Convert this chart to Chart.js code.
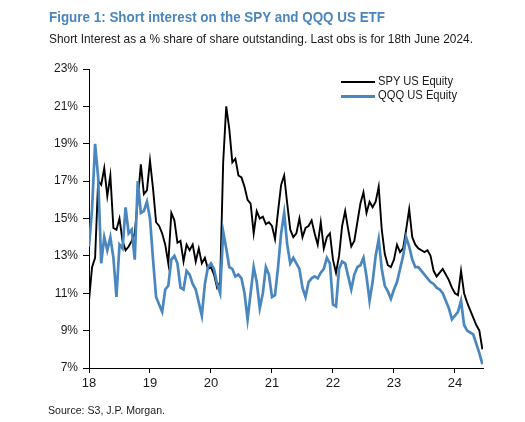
<!DOCTYPE html>
<html>
<head>
<meta charset="utf-8">
<script src="https://cdn.jsdelivr.net/npm/chart.js@4.4.0/dist/chart.umd.min.js"></script>
<style>
    body { margin: 0; background: #fff; }
    #wrap { position: relative; width: 525px; height: 422px; font-family: "Liberation Sans", Arial, sans-serif; color: #1a1a1a; }
    #grafico { position: absolute; left: 0; top: 0; }
    .txt { position: absolute; white-space: nowrap; transform-origin: 0 0; line-height: 1; }
    .titulo { left: 49px; top: 10px; font-size: 14px; font-weight: bold; color: #4a86bd; }
    .subtitulo { left: 49px; top: 32px; font-size: 13.5px; }
    .fonte { left: 48px; top: 405px; font-size: 11px; }
    .leg { font-size: 12px; left: 378px; }
    .linha { position: absolute; left: 341px; width: 34px; }
</style>
</head>
<body>
<div id="wrap">
    <canvas id="grafico" width="525" height="422"></canvas>
    <div class="txt titulo" data-w="336">Figure 1: Short interest on the SPY and QQQ US ETF</div>
    <div class="txt subtitulo" data-w="424">Short Interest as a % share of share outstanding. Last obs is for 18th June 2024.</div>
    <div class="linha" style="top:80.5px; height:2px; background:#000;"></div>
    <div class="txt leg" style="top:74.5px;" data-w="75">SPY US Equity</div>
    <div class="linha" style="top:94.5px; height:3px; background:#4a87bf;"></div>
    <div class="txt leg" style="top:89px;" data-w="79">QQQ US Equity</div>
    <div class="txt fonte" data-w="117">Source: S3, J.P. Morgan.</div>
</div>

<script>
// datas: a partir de 2018 (18), um ponto a cada 0.05 ano
var anoInicial = 18;
var passo = 0.05;
var anoFinal = 24.46;

var anosEixo = [18, 19, 20, 21, 22, 23, 24];
var ticksY = [7, 9, 11, 13, 15, 17, 19, 21, 23];

// short interest em % (SPY)
var spy = [
    10.6, 12.4, 12.9, 17.0, 16.8, 17.7, 16.2, 17.3, 14.5, 14.4, 15.0, 13.8, 13.3, 13.5, 13.8, 14.2, 16.0, 17.9, 16.3, 16.5,
    18.1, 16.6, 14.8, 14.6, 14.2, 13.6, 12.6, 15.3, 14.9, 13.7, 13.8, 12.7, 13.6, 13.3, 13.6, 12.7, 13.4, 12.6, 12.9, 12.3,
    12.4, 12.0, 11.3, 11.6, 18.0, 21.0, 19.8, 18.0, 18.2, 17.3, 17.2, 16.7, 16.0, 15.8, 14.2, 15.4, 15.0, 15.1, 14.7, 14.8,
    14.6, 13.9, 15.4, 16.8, 17.3, 15.8, 14.4, 14.0, 14.2, 15.0, 14.0, 14.5, 14.6, 14.9, 14.2, 13.6, 14.8, 13.4, 14.0, 14.2,
    12.8, 12.1, 13.0, 14.6, 15.4, 14.4, 13.5, 13.8, 14.8, 15.8, 16.4, 15.3, 15.9, 15.6, 15.9, 16.7, 14.4, 13.1, 12.5, 12.4,
    12.8, 13.6, 13.2, 13.4, 14.4, 15.5, 14.0, 13.6, 13.4, 13.3, 13.2, 13.3, 13.0, 12.2, 11.9, 12.1, 12.3, 12.0, 11.7, 11.3,
    11.0, 10.9, 12.2, 11.0, 10.5, 10.1, 9.7, 9.3, 9.0, 8.0
];

// short interest em % (QQQ)
var qqq = [
    13.5, 15.5, 19.0, 17.2, 12.6, 14.0, 13.3, 14.0, 12.9, 10.8, 13.6, 13.4, 15.6, 14.2, 14.4, 12.8, 17.0, 15.3, 15.4, 15.9,
    15.0, 12.8, 10.8, 10.4, 10.0, 11.2, 11.4, 12.8, 13.0, 12.6, 11.3, 11.2, 12.2, 12.0, 11.5, 11.2, 10.5, 9.8, 11.5, 12.4,
    12.6, 12.3, 11.5, 11.0, 14.3, 13.4, 12.4, 12.3, 11.9, 12.0, 11.8, 11.0, 9.6, 11.0, 12.4, 11.6, 10.2, 11.0, 12.4, 12.0,
    10.8, 10.9, 12.4, 14.2, 15.3, 13.6, 12.6, 12.9, 12.6, 12.3, 11.3, 10.8, 11.6, 11.8, 11.9, 11.8, 12.1, 12.3, 12.9, 12.6,
    10.4, 10.3, 12.3, 12.7, 12.6, 11.9, 11.2, 12.0, 12.4, 12.5, 12.9, 11.9, 10.6, 11.6, 13.0, 13.9, 12.3, 11.4, 11.1, 10.7,
    11.2, 11.6, 12.3, 13.0, 14.0, 13.5, 12.8, 12.4, 12.4, 12.2, 12.0, 11.8, 11.6, 11.5, 11.3, 11.2, 11.0, 10.6, 10.2, 9.6,
    9.8, 10.0, 10.6, 9.3, 9.0, 8.9, 8.8, 8.3, 7.8, 7.2
];

function pontos(valores) {
    return valores.map(function (v, i) {
        return { x: anoInicial + i * passo, y: v };
    });
}

// ajusta a largura dos textos ao original
document.querySelectorAll('[data-w]').forEach(function (el) {
    var largura = el.getBoundingClientRect().width;
    el.style.transform = 'scaleX(' + (el.dataset.w / largura) + ')';
});

Chart.defaults.font.family = "'Liberation Sans', Arial, sans-serif";
Chart.defaults.color = '#1a1a1a';

var ctx = document.getElementById('grafico');

var grafico = new Chart(ctx, {
    type: 'line',
    data: {
        datasets: [{
            label: 'SPY US Equity',
            data: pontos(spy),
            borderColor: '#000000',
            borderWidth: 1.9,
            pointRadius: 0,
            tension: 0,
            order: 2
        }, {
            label: 'QQQ US Equity',
            data: pontos(qqq),
            borderColor: '#4a87bf',
            borderWidth: 2.7,
            pointRadius: 0,
            tension: 0,
            order: 1
        }]
    },
    options: {
        responsive: false,
        animation: false,
        layout: { padding: { left: 0, right: 42, top: 69, bottom: 24 } },
        plugins: {
            legend: { display: false },
            tooltip: { enabled: false }
        },
        scales: {
            x: {
                type: 'linear',
                min: anoInicial,
                max: anoFinal,
                afterFit: function (escala) { escala.height = 30; },
                afterBuildTicks: function (escala) {
                    escala.ticks = anosEixo.map(function (a) { return { value: a }; });
                },
                ticks: {
                    autoSkip: false,
                    maxRotation: 0,
                    padding: 3,
                    font: { size: 13 },
                    callback: function (v) { return String(v); }
                },
                grid: { drawOnChartArea: false, drawTicks: true, tickLength: 5, color: '#000' },
                border: { color: '#000', width: 1 }
            },
            y: {
                min: 7,
                max: 23,
                afterFit: function (escala) { escala.width = 89; },
                afterBuildTicks: function (escala) {
                    escala.ticks = ticksY.map(function (t) { return { value: t }; });
                },
                ticks: {
                    padding: 5,
                    font: { size: 12 },
                    callback: function (v) { return v + '%'; }
                },
                grid: { drawOnChartArea: false, drawTicks: true, tickLength: 6, color: '#000' },
                border: { color: '#000', width: 1 }
            }
        }
    }
});
</script>
</body>
</html>
